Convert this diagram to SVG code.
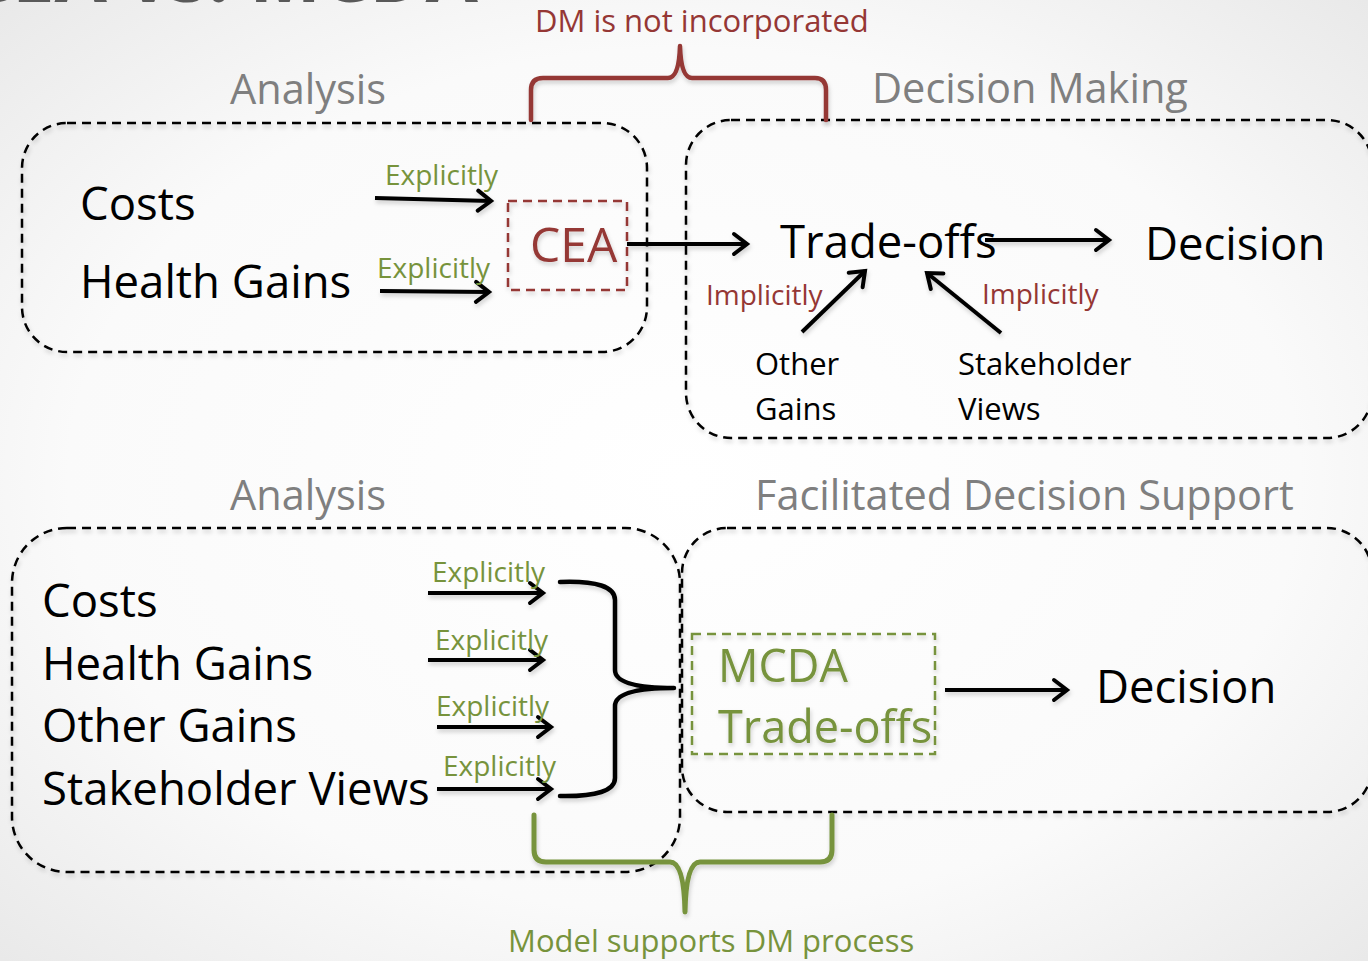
<svg xmlns="http://www.w3.org/2000/svg" width="1368" height="961" viewBox="0 0 1368 961">
  <defs>
    <radialGradient id="bg" cx="50%" cy="50%" r="75%">
      <stop offset="0" stop-color="#ffffff"/>
      <stop offset="0.6" stop-color="#fafafa"/>
      <stop offset="1" stop-color="#e6e6e6"/>
    </radialGradient>
    <filter id="soft" x="-5%" y="-5%" width="110%" height="115%">
      <feDropShadow dx="1" dy="3" stdDeviation="2" flood-color="#000" flood-opacity="0.18"/>
    </filter>
    <marker id="head" markerUnits="userSpaceOnUse" markerWidth="24" markerHeight="28" refX="17" refY="13" orient="auto">
      <path d="M4,3 L17,13 L4,23" fill="none" stroke="#000" stroke-width="4" stroke-linecap="round" stroke-linejoin="miter"/>
    </marker>
  </defs>
  <style>
    text { font-family: "Open Sans", "Noto Sans", "Liberation Sans", sans-serif; }
    .title { font-size: 76px; font-weight: bold; fill: #595959; }
    .hdr { font-size: 41.5px; fill: #7f7f7f; }
    .big { font-size: 45.5px; fill: #000; }
    .mid { font-size: 31px; fill: #000; }
    .exp { font-size: 28px; fill: #77933c; }
    .imp { font-size: 28px; fill: #953735; }
    .note-red { font-size: 31px; fill: #953735; }
    .note-green { font-size: 31px; fill: #77933c; }
    .area { fill: none; stroke: #000; stroke-width: 2.5; stroke-dasharray: 9 6; }
    .arrow { fill: none; stroke: #000; stroke-width: 4; marker-end: url(#head); }
    .brace { fill: none; stroke-linecap: round; stroke-linejoin: round; }
  </style>

  <rect width="1368" height="961" fill="url(#bg)"/>

  <!-- slide title, mostly above the visible area -->
  <text class="title" x="478" y="2" text-anchor="end">CEA vs. MCDA</text>

  <!-- section headers -->
  <text class="hdr" x="230" y="104">Analysis</text>
  <text class="hdr" x="872" y="103">Decision Making</text>
  <text class="hdr" x="230" y="510">Analysis</text>
  <text class="hdr" x="755" y="510">Facilitated Decision Support</text>

  <!-- dashed areas -->
  <g id="area-analysis-top" filter="url(#soft)">
    <rect class="area" x="22" y="123" width="625" height="229" rx="45"/>
  </g>
  <g id="area-decision-making" filter="url(#soft)">
    <rect class="area" x="686" y="120" width="686" height="318" rx="45"/>
  </g>
  <g id="area-analysis-bottom" filter="url(#soft)">
    <rect class="area" x="12" y="528" width="668" height="344" rx="55"/>
  </g>
  <g id="area-decision-support" filter="url(#soft)">
    <rect class="area" x="682" y="528" width="690" height="284" rx="45"/>
  </g>

  <!-- top row nodes -->
  <g id="costs-top"><text class="big" x="80" y="220">Costs</text></g>
  <g id="health-top"><text class="big" x="80" y="298" font-size="46.3">Health Gains</text></g>
  <g id="cea" filter="url(#soft)">
    <rect x="508" y="201" width="119" height="89" fill="none" stroke="#953735" stroke-width="2.5" stroke-dasharray="9 6"/>
    <text x="530" y="262" font-size="48" fill="#953735">CEA</text>
  </g>
  <g id="tradeoffs-top"><text class="big" x="780" y="258" font-size="44">Trade-offs</text></g>
  <g id="decision-top"><text class="big" x="1145" y="260" font-size="47.8">Decision</text></g>
  <g id="other-gains-top"><text class="mid" x="755" y="375">Other</text><text class="mid" x="755" y="420">Gains</text></g>
  <g id="stakeholder-top"><text class="mid" x="958" y="375">Stakeholder</text><text class="mid" x="958" y="420">Views</text></g>

  <!-- bottom row nodes -->
  <g id="costs-bottom"><text class="big" x="42" y="617">Costs</text></g>
  <g id="health-bottom"><text class="big" x="42" y="680">Health Gains</text></g>
  <g id="other-bottom"><text class="big" x="42" y="742">Other Gains</text></g>
  <g id="stakeholder-bottom"><text class="big" x="42" y="805">Stakeholder Views</text></g>
  <g id="mcda" filter="url(#soft)">
    <rect x="692" y="634" width="243" height="120" fill="none" stroke="#77933c" stroke-width="2.5" stroke-dasharray="9 6"/>
    <text x="718" y="682" font-size="45" fill="#77933c">MCDA</text>
    <text x="718" y="743" font-size="45" fill="#77933c">Trade-offs</text>
  </g>
  <g id="decision-bottom"><text class="big" x="1096" y="703" font-size="47.8">Decision</text></g>

  <!-- connectors -->
  <g id="connectors" filter="url(#soft)">
    <line class="arrow" x1="375" y1="198" x2="491" y2="201"/>
    <line class="arrow" x1="380" y1="291" x2="489" y2="292"/>
    <line class="arrow" x1="627" y1="244" x2="747" y2="244"/>
    <line class="arrow" x1="985" y1="240" x2="1109" y2="240"/>
    <line class="arrow" x1="802" y1="332" x2="865" y2="271"/>
    <line class="arrow" x1="1001" y1="333" x2="927" y2="273"/>
    <line class="arrow" x1="428" y1="593" x2="543" y2="593"/>
    <line class="arrow" x1="428" y1="660" x2="543" y2="660"/>
    <line class="arrow" x1="437" y1="727" x2="551" y2="727"/>
    <line class="arrow" x1="437" y1="789" x2="551" y2="789" stroke-width="5"/>
    <line class="arrow" x1="945" y1="690" x2="1067" y2="690"/>
    <path class="brace" stroke="#000" stroke-width="4.5" d="M560,582 Q615,580 615,600 V670 Q615,688 674,688 Q615,688 615,706 V778 Q615,797 560,796"/>
  </g>

  <!-- connector labels -->
  <g id="labels">
    <text class="exp" x="385" y="185">Explicitly</text>
    <text class="exp" x="377" y="278">Explicitly</text>
    <text class="imp" x="706" y="305">Implicitly</text>
    <text class="imp" x="982" y="304">Implicitly</text>
    <text class="exp" x="432" y="582">Explicitly</text>
    <text class="exp" x="435" y="650">Explicitly</text>
    <text class="exp" x="436" y="716">Explicitly</text>
    <text class="exp" x="443" y="776">Explicitly</text>
  </g>

  <!-- annotation braces -->
  <g id="note-not-incorporated">
    <path class="brace" filter="url(#soft)" stroke="#953735" stroke-width="4.5" d="M531,120 V90 Q531,78 543,78 H668 Q679,78 680,46 Q681,78 692,78 H815 Q826,78 826,90 V120"/>
    <text class="note-red" x="535" y="32">DM is not incorporated</text>
  </g>
  <g id="note-model-supports">
    <path class="brace" filter="url(#soft)" stroke="#77933c" stroke-width="5" d="M534,815 V850 Q534,862 546,862 H670 Q684,862 685,912 Q686,862 700,862 H820 Q832,862 832,850 V815"/>
    <text class="note-green" x="508" y="952">Model supports DM process</text>
  </g>
</svg>
